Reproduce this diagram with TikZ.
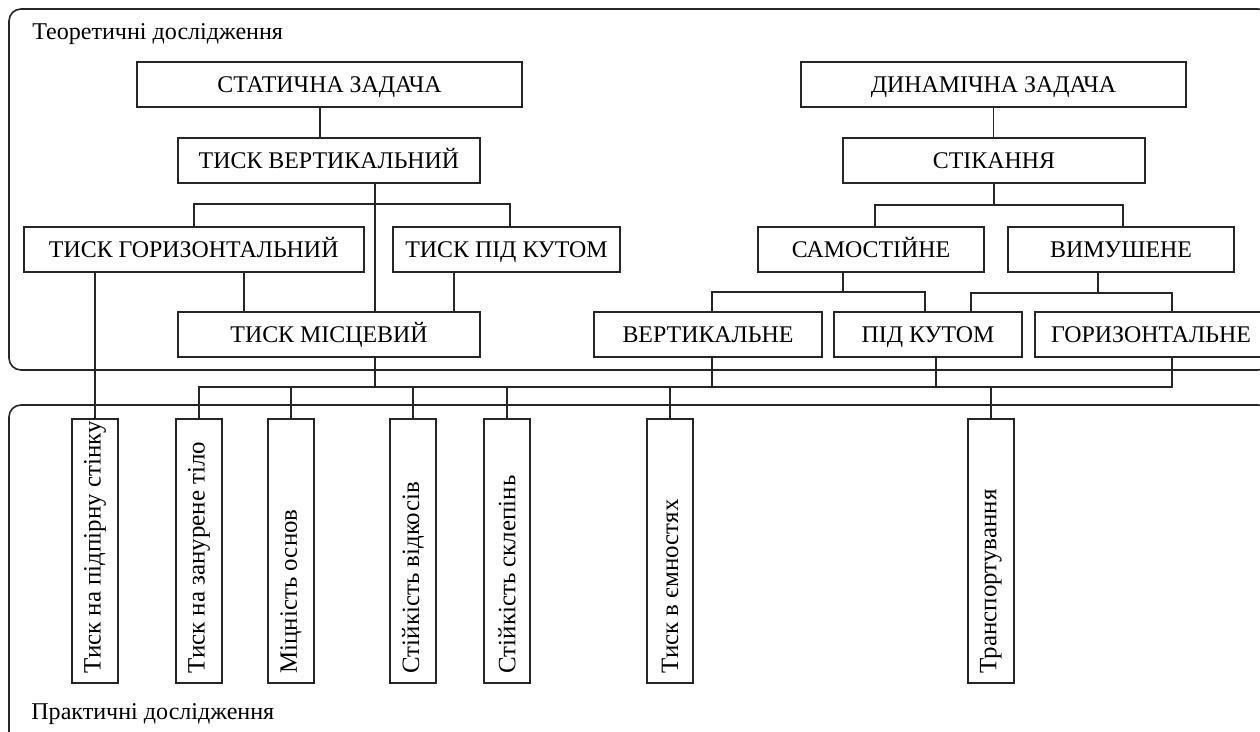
\documentclass[tikz,border=0pt]{standalone}
\usepackage{fontspec}
\setmainfont{Liberation Serif}
\usepackage{graphicx}

\begin{document}
\begin{tikzpicture}[x=0.02cm,y=-0.02cm,
    box/.style={draw=black!85, line width=0.9pt, minimum height=0.9cm, inner sep=0pt, text height=9pt, text depth=0pt, font=\fontsize{13.6}{15}\selectfont},
    vbox/.style={draw=black!85, line width=0.9pt, minimum width=0.92cm, minimum height=5.28cm, inner sep=0pt, font=\fontsize{14.2}{16}\selectfont},
    link/.style={draw=black!85, line width=0.9pt},
    frame/.style={draw=black!85, line width=0.9pt, rounded corners=0.24cm},
    title/.style={anchor=base west, inner sep=0pt, font=\fontsize{13.7}{16}\selectfont}]

    \useasboundingbox (0,0) rectangle (1260,732);
    \clip (0,0) rectangle (1260,732);

    \draw[frame] (9,9) rectangle (1270,370);
    \draw[frame] (9,405) rectangle (1270,745);
    \node[title] (theory) at (32,40) {Теоретичні дослідження};
    \node[title] (practice) at (31,719) {Практичні дослідження};

    \node[box, minimum width=7.7cm] (stat) at (329.5,84.5) {СТАТИЧНА ЗАДАЧА};
    \node[box, minimum width=7.7cm] (dyn) at (993.5,84.5) {ДИНАМІЧНА ЗАДАЧА};
    \node[box, minimum width=6.04cm] (tvert) at (329,160.5) {ТИСК ВЕРТИКАЛЬНИЙ};
    \node[box, minimum width=6.04cm] (stik) at (994,160.5) {СТІКАННЯ};
    \node[box, minimum width=6.8cm] (thor) at (193.75,249.5) {ТИСК ГОРИЗОНТАЛЬНИЙ};
    \node[box, minimum width=4.54cm] (tkut) at (506.5,249.5) {ТИСК ПІД КУТОМ};
    \node[box, minimum width=4.52cm] (samo) at (871,249.5) {САМОСТІЙНЕ};
    \node[box, minimum width=4.52cm] (vymu) at (1121,249.5) {ВИМУШЕНЕ};
    \node[box, minimum width=6.04cm] (tmis) at (329,334.5) {ТИСК МІСЦЕВИЙ};
    \node[box, minimum width=4.56cm] (vert) at (708,334.5) {ВЕРТИКАЛЬНЕ};
    \node[box, minimum width=3.76cm] (pkut) at (928,334.5) {ПІД КУТОМ};
    \node[box, minimum width=4.64cm] (hor) at (1151,334.5) {ГОРИЗОНТАЛЬНЕ};

    \node[vbox] (b1) at (95,551) {\rotatebox{90}{\makebox[4.9cm][l]{Тиск на підпірну стінку}}};
    \node[vbox] (b2) at (199,551) {\rotatebox{90}{\makebox[4.9cm][l]{Тиск на занурене тіло}}};
    \node[vbox] (b3) at (291,551) {\rotatebox{90}{\makebox[4.9cm][l]{Міцність основ}}};
    \node[vbox] (b4) at (413,551) {\rotatebox{90}{\makebox[4.9cm][l]{Стійкість відкосів}}};
    \node[vbox] (b5) at (507,551) {\rotatebox{90}{\makebox[4.9cm][l]{Стійкість склепінь}}};
    \node[vbox] (b6) at (670,551) {\rotatebox{90}{\makebox[4.9cm][l]{Тиск в ємностях}}};
    \node[vbox] (b7) at (991,551) {\rotatebox{90}{\makebox[4.9cm][l]{Транспортування}}};

    \coordinate (bus) at (0,387);

    \draw[link] (stat.south -| 320,0) -- (tvert.north -| 320,0);
    \draw[link] (dyn.south) -- (dyn.south |- stik.north);
    \draw[link] (tvert.south -| 375,0) -- (tmis.north -| 375,0);
    \draw[link] (thor.north) -- (thor.north |- 0,204) -- (510,204) -- (tkut.north -| 510,0);
    \draw[link] (thor.south -| 244,0) -- (tmis.north -| 244,0);
    \draw[link] (tkut.south -| 454,0) -- (tmis.north -| 454,0);
    \draw[link] (stik.south) -- (stik.south |- 0,205);
    \draw[link] (samo.north -| 875,0) -- (875,205) -- (1123,205) -- (vymu.north -| 1123,0);
    \draw[link] (samo.south -| 843,0) -- (843,292);
    \draw[link] (vert.north -| 712,0) -- (712,292) -- (925,292) -- (pkut.north -| 925,0);
    \draw[link] (vymu.south -| 1098,0) -- (1098,293);
    \draw[link] (pkut.north -| 971,0) -- (971,293) -- (1172,293) -- (hor.north -| 1172,0);

    \draw[link] (tmis.south -| 375,0) -- (375,387);
    \draw[link] (vert.south -| 712,0) -- (712,387);
    \draw[link] (pkut.south -| 936,0) -- (936,387);
    \draw[link] (b2.north) -- (b2.north |- bus) -- (1172,387) -- (hor.south -| 1172,0);
    \draw[link] (b1.north) -- (b1.north |- thor.south);
    \draw[link] (b3.north) -- (b3.north |- bus);
    \draw[link] (b4.north) -- (b4.north |- bus);
    \draw[link] (b5.north) -- (b5.north |- bus);
    \draw[link] (b6.north) -- (b6.north |- bus);
    \draw[link] (b7.north) -- (b7.north |- bus);
\end{tikzpicture}
\end{document}
